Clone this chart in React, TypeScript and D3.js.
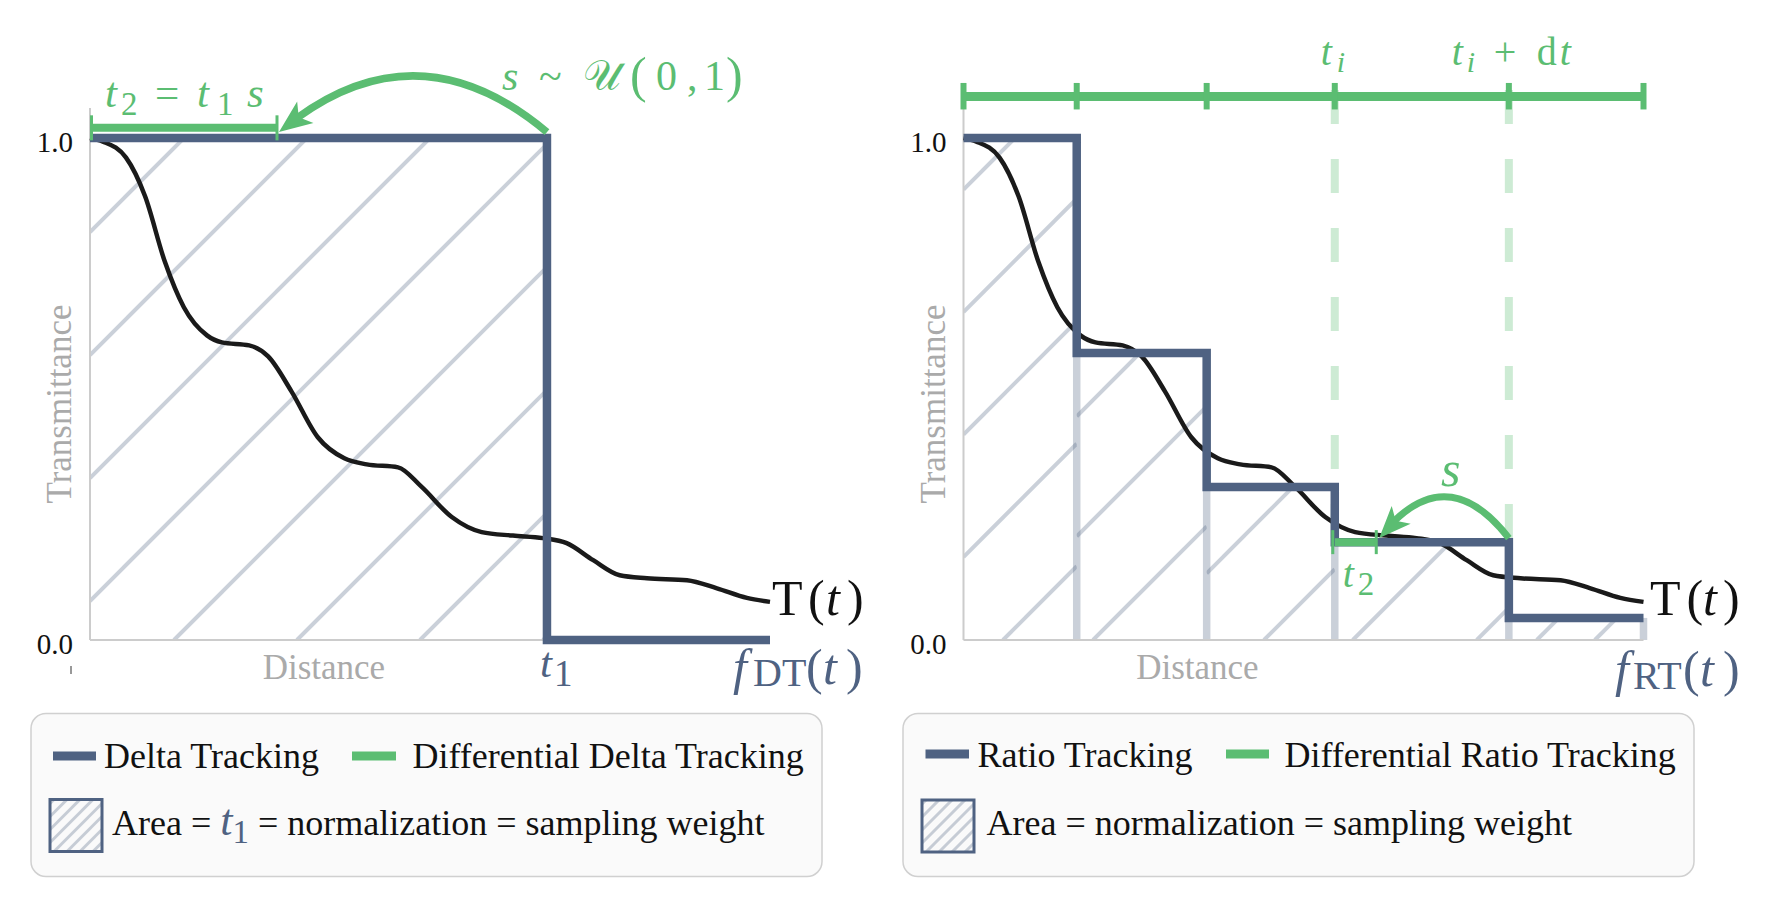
import React from 'react';
import * as d3 from 'd3';

// ---------------- data ----------------
// Transmittance curve T(t) (same function in both panels)
const T_X = [0, 0.19, 0.53, 0.81, 1.10, 1.38, 1.72, 1.94, 2.34, 2.62, 2.96, 3.35, 3.74, 4.07, 4.53, 4.87, 5.32, 5.76, 6.22, 6.66, 7.01, 7.40, 7.79, 8.19, 8.78, 9.22, 9.66, 10];
const T_Y = [1.0, 0.993, 0.961, 0.884, 0.754, 0.663, 0.607, 0.593, 0.587, 0.565, 0.496, 0.404, 0.362, 0.350, 0.344, 0.306, 0.245, 0.215, 0.208, 0.203, 0.193, 0.159, 0.129, 0.123, 0.119, 0.103, 0.084, 0.076];

const X_DOMAIN = [0, 10];
const Y_DOMAIN = [0, 1.06];
const Y_TICKS = [0, 1];
const Y_TICK_LABELS = ['0.0', '1.0'];
const X_LABEL_POS = 3.44;

// Delta tracking
const DT_T1 = 6.72;
const DT_T2 = 2.75;
const DT_LEVEL = 1.0;

// Ratio tracking
const RT_EDGES = [0, 1.665, 3.576, 5.46, 8.02, 10];
const RT_VALUES = [1.0, 0.572, 0.305, 0.195, 0.044];
const RT_TI = 3; // index of t_i in RT_EDGES (t_i + dt is the next edge)
const RT_T2 = 6.07;

// annotation levels (data units)
const GREEN_BAR_LEFT_Y = 1.0205;
const GREEN_BAR_TOP_Y = 1.083;
const DASH_TOP_Y = 1.096;
const ARROW_LEFT_Y = 1.012;
const ARROW_RIGHT_DY = 0.008;

// ---------------- style ----------------
const SERIF = "'Liberation Serif', 'Times New Roman', serif";
const SLATE = '#4f6282';
const GREEN = '#5bbd72';
const AXIS = '#cccccc';
const LABEL_GREY = '#aaaaaa';
const HATCH_LEFT = { spacing: 123, phase: 84 };
const HATCH_BARS_SPACING = [122.5, 120, 124, 124, 58];
const HATCH_BARS_PHASE = [39.5, 16.3, 57.3, 18, 28];

type P = [number, number];

function hatchSegs(x0: number, y0: number, x1: number, y1: number, spacing: number, phase: number) {
  const out: number[][] = [];
  const base = x0 + y1 + phase;
  const kmin = Math.ceil((x0 + y0 - base) / spacing);
  const kmax = Math.floor((x1 + y1 - base) / spacing);
  for (let k = kmin; k <= kmax; k++) {
    const c = base + k * spacing;
    const xa = Math.max(x0, c - y1);
    const xb = Math.min(x1, c - y0);
    if (xb > xa) out.push([xa, c - xa, xb, c - xb]);
  }
  return out;
}

function Arrow({ S, T, rad, color, width, L, W }: { S: P; T: P; rad: number; color: string; width: number; L: number; W: number }) {
  const mx = (S[0] + T[0]) / 2, my = (S[1] + T[1]) / 2;
  const dx = T[0] - S[0], dy = T[1] - S[1];
  const C: P = [mx - rad * dy, my + rad * dx];
  const B = (t: number): P => {
    const a = (1 - t) * (1 - t), b = 2 * (1 - t) * t, c = t * t;
    return [a * S[0] + b * C[0] + c * T[0], a * S[1] + b * C[1] + c * T[1]];
  };
  const findT = (dist: number) => {
    let lo = 0, hi = 1;
    for (let i = 0; i < 50; i++) {
      const mid = (lo + hi) / 2;
      const p = B(mid);
      const d = Math.hypot(p[0] - T[0], p[1] - T[1]);
      if (d > dist) lo = mid; else hi = mid;
    }
    return (lo + hi) / 2;
  };
  const H = B(findT(L));
  const ul = Math.hypot(T[0] - H[0], T[1] - H[1]);
  const u: P = [(T[0] - H[0]) / ul, (T[1] - H[1]) / ul];
  const tE = findT(0.72 * L);
  const E = B(tE);
  const Cp: P = [S[0] + (C[0] - S[0]) * tE, S[1] + (C[1] - S[1]) * tE];
  const n: P = [-u[1], u[0]];
  const base: P = [T[0] - u[0] * L, T[1] - u[1] * L];
  const notch: P = [T[0] - u[0] * 0.75 * L, T[1] - u[1] * 0.75 * L];
  const p1: P = [base[0] + n[0] * W, base[1] + n[1] * W];
  const p2: P = [base[0] - n[0] * W, base[1] - n[1] * W];
  const path = d3.path();
  path.moveTo(S[0], S[1]);
  path.quadraticCurveTo(Cp[0], Cp[1], E[0], E[1]);
  return (
    <g>
      <path d={path.toString()} fill="none" stroke={color} strokeWidth={width} />
      <polygon points={[T, p1, notch, p2].map((p) => p.join(',')).join(' ')} fill={color} />
    </g>
  );
}

type Piece = { s: string; dx: number; size?: number; it?: boolean; dy?: number };
function MathText({ x, y, size, fill, pieces }: { x: number; y: number; size: number; fill: string; pieces: Piece[] }) {
  return (
    <text fontFamily={SERIF} fontSize={size} fill={fill} style={{ whiteSpace: 'pre' }}>
      {pieces.map((p, i) => (
        <tspan key={i} x={x + p.dx} y={y + (p.dy || 0)} fontSize={p.size || size} fontStyle={p.it ? 'italic' : 'normal'}>
          {p.s}
        </tspan>
      ))}
    </text>
  );
}

function Axes({ x, y }: { x: d3.ScaleLinear<number, number>; y: d3.ScaleLinear<number, number> }) {
  const x0 = x(X_DOMAIN[0]);
  return (
    <g>
      <line x1={x0} x2={x0} y1={y(Y_DOMAIN[1])} y2={y(0)} stroke={AXIS} strokeWidth={2} />
      <line x1={x0} x2={x(X_DOMAIN[1])} y1={y(0)} y2={y(0)} stroke={AXIS} strokeWidth={2} />
      {Y_TICKS.map((t, i) => (
        <text key={i} x={x0 - 17} y={y(t) + 13.5} textAnchor="end" fontSize={29} fontFamily={SERIF} fill="#111">
          {Y_TICK_LABELS[i]}
        </text>
      ))}
      <text x={x(X_LABEL_POS)} y={679} textAnchor="middle" fontSize={35} fontFamily={SERIF} fill={LABEL_GREY}>
        Distance
      </text>
      <text transform={`translate(${x0 - 19},404) rotate(-90)`} textAnchor="middle" fontSize={35} fontFamily={SERIF} fill={LABEL_GREY}>
        Transmittance
      </text>
    </g>
  );
}

function HatchSquare({ x, y, size, id }: { x: number; y: number; size: number; id: string }) {
  const segs = hatchSegs(x, y, x + size, y + size, 13, 4);
  return (
    <g>
      <clipPath id={id}>
        <rect x={x} y={y} width={size} height={size} />
      </clipPath>
      <g clipPath={`url(#${id})`}>
        {segs.map((s, i) => (
          <line key={i} x1={s[0]} y1={s[1]} x2={s[2]} y2={s[3]} stroke={SLATE} strokeOpacity={0.3} strokeWidth={3} />
        ))}
      </g>
      <rect x={x} y={y} width={size} height={size} fill="none" stroke={SLATE} strokeWidth={3} />
    </g>
  );
}

export default function App() {
  const y = d3.scaleLinear().domain(Y_DOMAIN).range([640, 108]);
  const xL = d3.scaleLinear().domain(X_DOMAIN).range([90, 770]);
  const xR = d3.scaleLinear().domain(X_DOMAIN).range([963.5, 1643.5]);
  const curvePts: P[] = T_X.map((t, i) => [t, T_Y[i]]);
  const mkLine = (x: d3.ScaleLinear<number, number>) =>
    d3.line<P>().x((d) => x(d[0])).y((d) => y(d[1])).curve(d3.curveMonotoneX);

  // Delta tracking step function
  const dtPts: P[] = [
    [X_DOMAIN[0], DT_LEVEL],
    [DT_T1, DT_LEVEL],
    [DT_T1, 0],
    [X_DOMAIN[1], 0],
  ];
  const straight = (x: d3.ScaleLinear<number, number>) => d3.line<P>().x((d) => x(d[0])).y((d) => y(d[1]));

  // Ratio tracking step function
  const rtPts: P[] = [];
  RT_VALUES.forEach((v, i) => {
    rtPts.push([RT_EDGES[i], v]);
    rtPts.push([RT_EDGES[i + 1], v]);
  });

  const leftHatch = hatchSegs(xL(0), y(DT_LEVEL), xL(DT_T1), y(0), HATCH_LEFT.spacing, HATCH_LEFT.phase);

  const topTicks = RT_EDGES;
  const ti = RT_EDGES[RT_TI];
  const tidt = RT_EDGES[RT_TI + 1];
  const dashBottom = RT_VALUES[RT_TI];

  return (
    <svg width={1770} height={912} style={{ position: 'absolute', left: 0, top: 0, background: '#fff' }}>
      <defs>
        {RT_VALUES.map((v, i) => (
          <clipPath key={i} id={`bar${i}`}>
            <rect x={xR(RT_EDGES[i])} y={y(v)} width={xR(RT_EDGES[i + 1]) - xR(RT_EDGES[i])} height={y(0) - y(v)} />
          </clipPath>
        ))}
        <clipPath id="leftArea">
          <rect x={xL(0)} y={y(DT_LEVEL)} width={xL(DT_T1) - xL(0)} height={y(0) - y(DT_LEVEL)} />
        </clipPath>
      </defs>
      <rect x={0} y={0} width={1770} height={912} fill="#fff" />

      {/* ================= LEFT PANEL ================= */}
      <g clipPath="url(#leftArea)">
        {leftHatch.map((s, i) => (
          <line key={i} x1={s[0]} y1={s[1]} x2={s[2]} y2={s[3]} stroke={SLATE} strokeOpacity={0.3} strokeWidth={4} />
        ))}
      </g>
      <Axes x={xL} y={y} />
      <line x1={71} x2={71} y1={666} y2={674} stroke="#333" strokeWidth={1} />
      <path d={mkLine(xL)(curvePts) || ''} fill="none" stroke="#1a1a1a" strokeWidth={4.5} />
      <path d={straight(xL)(dtPts) || ''} fill="none" stroke={SLATE} strokeWidth={8.5} strokeLinejoin="miter" />
      {/* green bar t2 */}
      <line x1={xL(0)} x2={xL(DT_T2)} y1={y(GREEN_BAR_LEFT_Y)} y2={y(GREEN_BAR_LEFT_Y)} stroke={GREEN} strokeWidth={8} />
      {[0, DT_T2].map((t, i) => (
        <line key={i} x1={xL(t) + (i === 0 ? 1.5 : 0)} x2={xL(t) + (i === 0 ? 1.5 : 0)} y1={y(GREEN_BAR_LEFT_Y) - 12.5} y2={y(GREEN_BAR_LEFT_Y) + 12.5} stroke={GREEN} strokeWidth={3} />
      ))}
      <Arrow S={[xL(DT_T1), y(ARROW_LEFT_Y)]} T={[xL(DT_T2) + 2, y(ARROW_LEFT_Y)]} rad={0.42} color={GREEN} width={7.5} L={33} W={13.5} />
      <MathText x={105} y={107} size={43} fill={GREEN} pieces={[
        { s: 't', dx: 0, it: true },
        { s: '2', dx: 16, size: 33, dy: 8 },
        { s: '=', dx: 50 },
        { s: 't', dx: 92, it: true },
        { s: '1', dx: 112, size: 33, dy: 8 },
        { s: 's', dx: 142, it: true },
      ]} />
      <MathText x={502} y={90} size={42} fill={GREEN} pieces={[
        { s: 's', dx: 0, it: true },
        { s: '~', dx: 37 },
        { s: '𝒰', dx: 81 },
        { s: '(', dx: 128, size: 50, dy: 2 },
        { s: '0', dx: 154 },
        { s: ',', dx: 185 },
        { s: '1', dx: 202 },
        { s: ')', dx: 224, size: 50, dy: 2 },
      ]} />
      <MathText x={xL(DT_T1) - 7} y={677} size={43} fill={SLATE} pieces={[
        { s: 't', dx: 0, it: true },
        { s: '1', dx: 14, size: 37, dy: 9 },
      ]} />
      <MathText x={xL(X_DOMAIN[1]) + 2} y={615} size={50} fill="#111" pieces={[
        { s: 'T', dx: 0 },
        { s: '(', dx: 36 },
        { s: 't', dx: 54, it: true },
        { s: ')', dx: 75 },
      ]} />
      <MathText x={xL(X_DOMAIN[1]) - 37} y={684} size={50} fill={SLATE} pieces={[
        { s: 'f', dx: 0, it: true },
        { s: 'DT', dx: 20, size: 40, dy: 2 },
        { s: '(', dx: 73 },
        { s: 't', dx: 90, it: true },
        { s: ')', dx: 113 },
      ]} />

      {/* ================= RIGHT PANEL ================= */}
      {RT_VALUES.map((v, i) => {
        const segs = hatchSegs(xR(RT_EDGES[i]), y(v), xR(RT_EDGES[i + 1]), y(0), HATCH_BARS_SPACING[i], HATCH_BARS_PHASE[i]);
        return (
          <g key={i} clipPath={`url(#bar${i})`}>
            {segs.map((s, j) => (
              <line key={j} x1={s[0]} y1={s[1]} x2={s[2]} y2={s[3]} stroke={SLATE} strokeOpacity={0.3} strokeWidth={4} />
            ))}
          </g>
        );
      })}
      {RT_EDGES.map((e, i) => {
        if (i === 0) return null;
        const left = RT_VALUES[i - 1];
        const right = i < RT_VALUES.length ? RT_VALUES[i] : Infinity;
        const top = Math.min(left, right);
        return <line key={i} x1={xR(e)} x2={xR(e)} y1={y(top)} y2={y(0)} stroke={SLATE} strokeOpacity={0.3} strokeWidth={7.5} />;
      })}
      <Axes x={xR} y={y} />
      {[ti, tidt].map((t, i) => (
        <line key={i} x1={xR(t)} x2={xR(t)} y1={y(DASH_TOP_Y)} y2={y(dashBottom)} stroke={GREEN} strokeOpacity={0.3} strokeWidth={8} strokeDasharray="34 35" />
      ))}
      <path d={mkLine(xR)(curvePts) || ''} fill="none" stroke="#1a1a1a" strokeWidth={4.5} />
      <path d={straight(xR)(rtPts) || ''} fill="none" stroke={SLATE} strokeWidth={8.5} strokeLinejoin="miter" />
      {/* top green ruler */}
      <line x1={xR(X_DOMAIN[0])} x2={xR(X_DOMAIN[1])} y1={y(GREEN_BAR_TOP_Y)} y2={y(GREEN_BAR_TOP_Y)} stroke={GREEN} strokeWidth={9} />
      {topTicks.map((t, i) => (
        <line key={i} x1={xR(t)} x2={xR(t)} y1={y(GREEN_BAR_TOP_Y) - 13.5} y2={y(GREEN_BAR_TOP_Y) + 13} stroke={GREEN} strokeWidth={6} />
      ))}
      {/* small green t2 bar */}
      <line x1={xR(ti)} x2={xR(RT_T2)} y1={y(RT_VALUES[RT_TI])} y2={y(RT_VALUES[RT_TI])} stroke={GREEN} strokeWidth={8} />
      {[ti, RT_T2].map((t, i) => (
        <line key={i} x1={xR(t) - (i === 0 ? 2 : 0)} x2={xR(t) - (i === 0 ? 2 : 0)} y1={y(RT_VALUES[RT_TI]) - 12} y2={y(RT_VALUES[RT_TI]) + 12} stroke={GREEN} strokeWidth={3} />
      ))}
      <Arrow S={[xR(tidt), y(RT_VALUES[RT_TI] + ARROW_RIGHT_DY)]} T={[xR(RT_T2) + 3, y(RT_VALUES[RT_TI] + ARROW_RIGHT_DY)]} rad={0.64} color={GREEN} width={7} L={32} W={13} />
      <MathText x={1441} y={486} size={50} fill={GREEN} pieces={[{ s: 's', dx: 0, it: true }]} />
      <MathText x={xR(ti) + 8} y={587} size={40} fill={GREEN} pieces={[
        { s: 't', dx: 0, it: true },
        { s: '2', dx: 15, size: 33, dy: 8 },
      ]} />
      <MathText x={xR(ti) - 14} y={65} size={40} fill={GREEN} pieces={[
        { s: 't', dx: 0, it: true },
        { s: 'i', dx: 16, size: 30, it: true, dy: 7 },
      ]} />
      <MathText x={xR(tidt) - 57} y={65} size={40} fill={GREEN} pieces={[
        { s: 't', dx: 0, it: true },
        { s: 'i', dx: 15, size: 30, it: true, dy: 7 },
        { s: '+', dx: 42 },
        { s: 'd', dx: 85 },
        { s: 't', dx: 108, it: true },
      ]} />
      <MathText x={xR(X_DOMAIN[1]) + 6.5} y={615} size={50} fill="#111" pieces={[
        { s: 'T', dx: 0 },
        { s: '(', dx: 36.5 },
        { s: 't', dx: 53, it: true },
        { s: ')', dx: 73 },
      ]} />
      <MathText x={xR(X_DOMAIN[1]) - 28.5} y={686} size={50} fill={SLATE} pieces={[
        { s: 'f', dx: 0, it: true },
        { s: 'RT', dx: 18, size: 40, dy: 3 },
        { s: '(', dx: 68 },
        { s: 't', dx: 85, it: true },
        { s: ')', dx: 108 },
      ]} />

      {/* ================= LEGENDS ================= */}
      <g fontFamily={SERIF} fontSize={36} fill="#111">
        <rect x={31} y={713.5} width={791} height={163} rx={15} fill="#fafafa" stroke="#d0d0d0" strokeWidth={1.5} />
        <line x1={53} x2={96} y1={756} y2={756} stroke={SLATE} strokeWidth={9} />
        <text x={104} y={768}>Delta Tracking</text>
        <line x1={352} x2={396} y1={756} y2={756} stroke={GREEN} strokeWidth={9} />
        <text x={412.5} y={768}>Differential Delta Tracking</text>
        <HatchSquare x={50} y={799.5} size={52} id="lsq" />
        <text x={112} y={835} style={{ whiteSpace: 'pre' }}>
          <tspan>Area = </tspan>
          <tspan fill={SLATE} fontStyle="italic" fontSize={44}>t</tspan>
          <tspan fill={SLATE} fontSize={33} dy={8}>1</tspan>
          <tspan dy={-8}> = normalization = sampling weight</tspan>
        </text>

        <rect x={903} y={713.5} width={791} height={163} rx={15} fill="#fafafa" stroke="#d0d0d0" strokeWidth={1.5} />
        <line x1={925.5} x2={969} y1={754} y2={754} stroke={SLATE} strokeWidth={9} />
        <text x={977.5} y={767}>Ratio Tracking</text>
        <line x1={1226} x2={1269} y1={754} y2={754} stroke={GREEN} strokeWidth={9} />
        <text x={1284.5} y={767}>Differential Ratio Tracking</text>
        <HatchSquare x={922} y={800} size={52} id="rsq" />
        <text x={986.5} y={835}>Area = normalization = sampling weight</text>
      </g>
    </svg>
  );
}
